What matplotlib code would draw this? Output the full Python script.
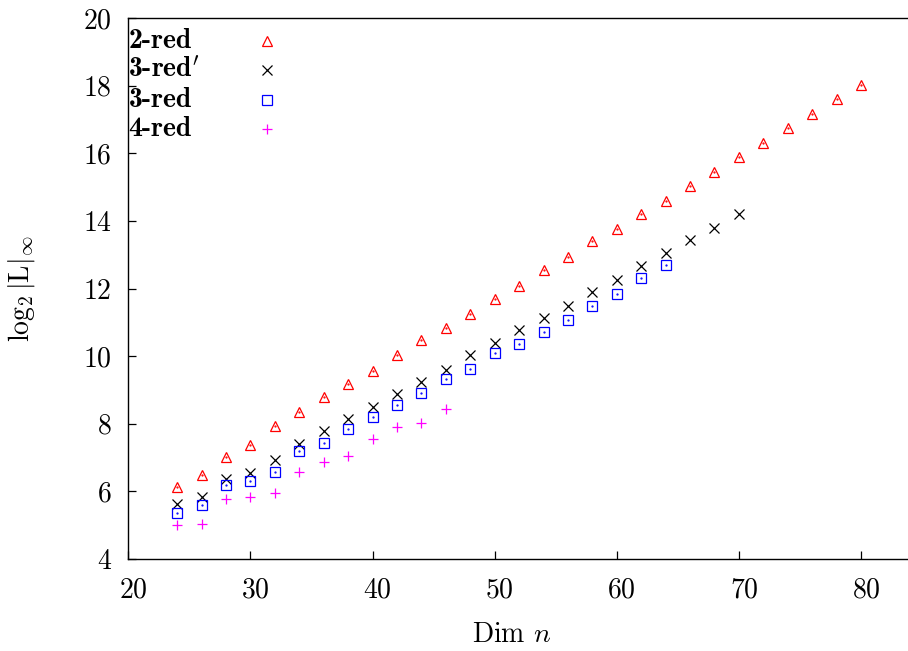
import matplotlib
matplotlib.use("Agg")
import matplotlib.pyplot as plt
import matplotlib.transforms as mtransforms

plt.rcParams['font.family'] = 'cmr10'
plt.rcParams['mathtext.fontset'] = 'cm'
plt.rcParams['axes.formatter.use_mathtext'] = True
plt.rcParams['axes.unicode_minus'] = False

# dimensions n for each reduction variant
dim_2red = list(range(24, 81, 2))
dim_3redp = list(range(24, 71, 2))
dim_3red = list(range(24, 65, 2))
dim_4red = list(range(24, 47, 2))

# log2 of max entry of L
log_2red = [6.14, 6.47, 7.03, 7.37, 7.94, 8.34, 8.78, 9.18, 9.55, 10.02,
            10.47, 10.82, 11.25, 11.70, 12.07, 12.56, 12.92, 13.40, 13.75,
            14.19, 14.60, 15.03, 15.45, 15.88, 16.31, 16.75, 17.16, 17.60, 18.02]
log_3redp = [5.63, 5.82, 6.38, 6.53, 6.93, 7.39, 7.78, 8.14, 8.49, 8.88,
             9.22, 9.60, 10.04, 10.38, 10.76, 11.13, 11.48, 11.89, 12.25,
             12.66, 13.04, 13.42, 13.80, 14.21]
log_3red = [5.37, 5.60, 6.19, 6.32, 6.57, 7.19, 7.44, 7.83, 8.21, 8.56,
            8.91, 9.31, 9.63, 10.10, 10.37, 10.72, 11.08, 11.49, 11.85,
            12.31, 12.69]
log_4red = [5.01, 5.04, 5.76, 5.84, 5.94, 6.58, 6.87, 7.05, 7.56, 7.91,
            8.03, 8.44]

series = [
    (r"2-red", dim_2red, log_2red, '^', '#ff0000', True),
    (r"3-red$'$", dim_3redp, log_3redp, 'x', '#000000', False),
    (r"3-red", dim_3red, log_3red, 's', '#0000ff', True),
    (r"4-red", dim_4red, log_4red, '+', '#ff00ff', False),
]

fig = plt.figure(figsize=(9.08, 6.51), dpi=100)
ax = fig.add_axes([128.4 / 908, 92 / 651, 781.4 / 908, 541 / 651])

for i, (name, xs, ys, mk, col, dotted) in enumerate(series):
    ax.plot(xs, ys, linestyle='none', marker=mk, ms=7, mew=0.9,
            mfc='none', mec=col, clip_on=False)
    if dotted:
        ax.plot(xs, ys, linestyle='none', marker='.', ms=1.2, color=col)
    # key: bold label on the left, marker further right
    ky = 1 - (23 + 29.3 * i) / 541
    ax.text(0.0, ky, name, transform=ax.transAxes, fontsize=20,
            family='cmb10', va='center', ha='left')
    ax.plot([(267 - 128.4) / 781.4], [ky], transform=ax.transAxes,
            linestyle='none', marker=mk, ms=7, mew=0.9, mfc='none',
            mec=col, clip_on=False)

ax.set_xlim(20, 84)
ax.set_ylim(4, 20)
ax.set_xticks([20, 30, 40, 50, 60, 70, 80])
ax.set_yticks([4, 6, 8, 10, 12, 14, 16, 18, 20])
ax.tick_params(direction='in', length=5.5, width=0.9, labelsize=20,
               top=False, right=False)
ax.tick_params(axis='y', pad=12)
ax.tick_params(axis='x', pad=13)
for sp in ax.spines.values():
    sp.set_linewidth(1.0)

offset = mtransforms.ScaledTranslation(5 / 100, 0, fig.dpi_scale_trans)
for lab in ax.get_xticklabels():
    lab.set_transform(lab.get_transform() + offset)

ax.set_xlabel(r"Dim $n$", fontsize=20)
ax.xaxis.set_label_coords(0.491, -0.115)
ax.set_ylabel(r"$\log_2|\mathrm{L}|_\infty$", fontsize=20)
ax.yaxis.set_label_coords(-0.117, 0.5)

fig.savefig("out.png", dpi=100)
